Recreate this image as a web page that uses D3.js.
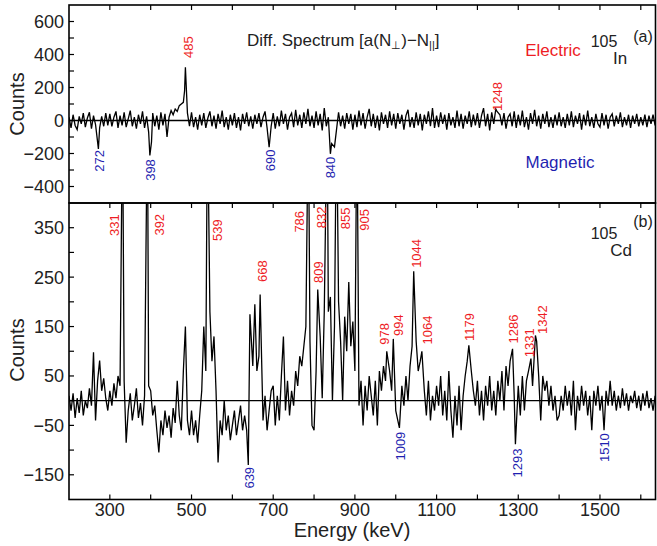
<!DOCTYPE html>
<html>
<head>
<meta charset="utf-8">
<script src="https://cdn.jsdelivr.net/npm/d3@7"></script>
<style>
  body { margin: 0; background: #fff; }
  text { font-family: "Liberation Sans", Arial, sans-serif; }
</style>
</head>
<body>
<div id="chart"></div>
<script>
"use strict";

// energy grid of the spectra (keV)
const energyStart = 200;
const energyStep = 5;
const energyLabels = [300, 500, 700, 900, 1100, 1300, 1500];
const energyTicks = d3.range(300, 1700, 100);
const ticksA = [-400, -200, 0, 200, 400, 600];
const ticksB = [-150, -50, 50, 150, 250, 350];

// (a) 105In difference spectrum, counts every 5 keV from 200 keV
const countsA = [
    20, -45, 35, -30, -55, 25, -20, 45, -40, 15, 50, -50, 30, -25, 55, -45, 25, -35, 45, -30,
    40, -35, 20, 55, -45, 30, -30, 50, -40, 10, 60, -35, 20, -50, 35, -20, 55, -45, 25, -70,
    -90, 45, -35, 30, -55, 50, -30, 40, -100, 20, 60, 35, 70, 55, 90, 100, 110, 200, 45, -35,
    50, -40, 20, -55, 35, -30, 45, -45, 15, 55, -35, 30, -50, 40, -20, 60, -40, 20, -55, 35,
    -30, 45, -45, 20, -60, 40, -20, 50, -35, 25, -50, 35, -20, 45, -40, 20, 55, -45, -160, -35,
    45, -50, 25, -35, 60, -20, 40, -55, 20, 45, -40, 65, -30, 35, -45, 50, -20, 70, -35, 30,
    -45, 55, -30, 40, -60, 75, -35, 20, -45, 35, -160, -55, 50, -35, 30, -50, 45, -20, 40, -55,
    35, -40, 60, -30, 45, -50, 20, 70, -35, 40, -45, 30, -60, 50, -20, 35, -45, 55, -30, 40,
    -50, 45, -20, 35, -55, 30, 65, -40, 20, -45, 50, -30, 40, -60, 35, -20, 55, -35, 75, -45,
    30, -40, 50, -20, 35, -55, 45, -30, 20, -45, 60, -35, 40, -50, 30, -20, 55, -40, 35, -30,
    45, -45, 30, 75, -35, 40, -60, 50, -20, 70, -65, 35, -30, 45, -50, 20, 40, -35, 55, -45,
    35, -30, 60, -40, 20, -55, 45, -20, 65, -35, 30, -50, 40, -20, 55, -40, 20, -45, 35, -30,
    50, -35, 20, -45, 40, -30, 55, -40, 30, -20, 45, -55, 35, -30, 60, -35, 20, -45, 40, -20,
    -40, 45, -30, 35, -50, 20, 40, -35, 30, -20, 50, -40, 20, -30, 35, -45, 30, -20, 40, -35,
    20, -30, 35, -40, 30, -20, 35, -30, 10
];
const peaksA = [
    [272, -172], [398, -212], [402, -130], [480, 110], [483, 180], [485, 323],
    [690, -162], [840, -202], [843, -140], [1248, 55]
];

// (b) 105Cd difference spectrum, counts every 5 keV from 200 keV
const countsB = [
    10, -20, 15, -35, 5, -25, 20, -30, 0, -15, 25, -10, 98, -40, 40, 81, 20, 45, 5, -20,
    20, -10, 35, 5, 50, 30, 60, 40, -85, -20, 15, -40, -10, 25, -35, -5, -50, 10, 55, 30,
    20, -30, -10, -60, -105, -40, -70, -20, -55, -30, -75, -15, -45, 40, -30, -60, 60, 10, -40, -70,
    -20, -70, -40, -85, -30, 20, 150, 60, 300, 180, 80, 130, 20, -125, -40, -70, 0, -60, -30, -80,
    -50, -20, -70, -40, -10, -60, -30, -60, 0, 40, 70, 100, 60, 90, 30, -40, 10, -60, -20, 20,
    30, -50, 10, -40, 50, 130, -20, 40, -30, 20, -10, 60, 30, 90, 70, 110, 150, 200, 120, -50,
    -60, 60, 150, 130, 5, 180, 250, 180, 210, 0, 150, 300, 200, 120, 0, 170, 100, 240, 110, 160,
    60, 300, -10, 40, -50, 30, -20, 50, 10, -30, 40, -50, 60, 20, 70, 40, 50, 60, 20, 80,
    -20, -40, -30, 30, -10, 50, 0, 70, 110, 200, 120, 60, 80, 70, 20, -30, 40, -40, 10, -20,
    30, -10, 50, -30, 20, -40, 60, -20, -75, 10, -50, 30, -60, 10, 50, 80, 100, 60, 20, -10,
    40, -30, 20, -40, 30, -10, 50, -20, 20, -30, 40, 0, 60, -20, 70, 30, 80, 90, 10, -20,
    30, -30, 50, -20, 40, 60, 80, 30, 70, 120, 50, -40, 50, 20, 40, -10, 30, -20, 10, -40,
    -30, 10, -20, 30, -10, 20, -30, 40, -60, 10, -20, 30, -10, 20, -30, 10, -60, 20, -10, 30,
    -20, 10, -60, 20, -10, 40, -10, 20, -20, 10, -15, 25, -10, 15, -20, 10, -5, 20, -15, 10,
    -20, 15, -10, 20, -15, 5, -20, 10, -10
];
const peaksB = [
    [331, 600], [392, 600], [485, 150], [539, 600], [639, -130], [643, 175], [655, 195],
    [668, 215], [786, 600], [809, 225], [832, 600], [855, 600], [905, 600], [978, 100],
    [994, 125], [1009, -55], [1044, 262], [1064, 100], [1179, 112], [1286, 105],
    [1293, -88], [1331, 85], [1342, 132], [1510, -60]
];

// peak labels: text, label energy, label counts level
const electricA = [["485", 492, 445], ["1248", 1248, 145]];
const magneticA = [["272", 274, -245], ["398", 400, -300], ["690", 692, -242], ["840", 840, -285]];
const electricB = [
    ["331", 310, 355], ["392", 421, 356], ["539", 564, 345], ["668", 673, 262],
    ["786", 765, 362], ["809", 810, 260], ["832", 818, 371], ["855", 877, 369],
    ["905", 924, 366], ["978", 973, 135], ["994", 1006, 153], ["1044", 1051, 298],
    ["1064", 1078, 143], ["1179", 1180, 149], ["1286", 1287, 145], ["1331", 1326, 117],
    ["1342", 1360, 164]
];
const magneticB = [["639", 641, -156], ["1009", 1011, -92], ["1293", 1297, -126], ["1510", 1511, -95]];

const red = "#ee1c24";
const blue = "#1f1fb0";

const drawChart = () => {
    const width = 657, height = 546;
    const left = 69, right = 655.5;
    const topA = 5, split = 203, bottomB = 499.5;

    const x = d3.scaleLinear().domain([200, 1636]).range([left, right]);
    const yA = d3.scaleLinear().domain([-500, 700]).range([split, topA]);
    const yB = d3.scaleLinear().domain([-200, 400]).range([bottomB, split]);

    const svg = d3.select("#chart").append("svg")
                  .attr("width", width)
                  .attr("height", height);

    const buildSeries = (counts, peaks) => {
        const grid = counts.map((c, i) => ({e: energyStart + i * energyStep, c: c}))
                           .filter(d => !peaks.some(p => Math.abs(p[0] - d.e) <= 2));
        return grid.concat(peaks.map(p => ({e: p[0], c: p[1]})))
                   .sort((a, b) => a.e - b.e);
    };

    const panel = (id, y, top, bottom, counts, peaks, yTicks, yLabels) => {
        svg.append("clipPath").attr("id", id)
           .append("rect")
           .attr("x", left).attr("y", top)
           .attr("width", right - left).attr("height", bottom - top);

        const g = svg.append("g");
        // zero line
        g.append("line")
         .attr("x1", left).attr("x2", right)
         .attr("y1", y(0)).attr("y2", y(0))
         .attr("stroke", "#000").attr("stroke-width", 1.4);

        const line = d3.line().x(d => x(d.e)).y(d => y(d.c));
        g.append("path")
         .datum(buildSeries(counts, peaks))
         .attr("clip-path", `url(#${id})`)
         .attr("d", line)
         .attr("fill", "none")
         .attr("stroke", "#000")
         .attr("stroke-width", 1.3);

        // y ticks (inward)
        g.selectAll(".yt").data(yTicks).enter()
         .append("line")
         .attr("x1", left).attr("x2", left + 5)
         .attr("y1", d => y(d)).attr("y2", d => y(d))
         .attr("stroke", "#000").attr("stroke-width", 1.2);
        g.selectAll(".yl").data(yLabels).enter()
         .append("text")
         .attr("x", left - 5)
         .attr("y", d => y(d))
         .attr("dy", "0.36em")
         .attr("text-anchor", "end")
         .attr("font-size", 18)
         .attr("fill", "#222")
         .text(d => d < 0 ? "\u2212" + Math.abs(d) : d);

        // top x ticks (pointing down)
        g.selectAll(".xt").data(energyTicks).enter()
         .append("line")
         .attr("x1", d => x(d)).attr("x2", d => x(d))
         .attr("y1", top).attr("y2", top + 5)
         .attr("stroke", "#000").attr("stroke-width", 1.2);

        // frame
        g.append("rect")
         .attr("x", left).attr("y", top)
         .attr("width", right - left).attr("height", bottom - top)
         .attr("fill", "none").attr("stroke", "#000").attr("stroke-width", 1.6);
        return g;
    };

    panel("clipA", yA, topA, split, countsA, peaksA,
          d3.range(-400, 700, 100), ticksA);
    panel("clipB", yB, split, bottomB, countsB, peaksB,
          d3.range(-150, 400, 50), ticksB);

    // bottom x axis
    svg.selectAll(".bt").data(energyTicks).enter()
       .append("line")
       .attr("x1", d => x(d)).attr("x2", d => x(d))
       .attr("y1", bottomB).attr("y2", bottomB - 5)
       .attr("stroke", "#000").attr("stroke-width", 1.2);
    svg.selectAll(".bl").data(energyLabels).enter()
       .append("text")
       .attr("x", d => x(d))
       .attr("y", bottomB + 16)
       .attr("text-anchor", "middle")
       .attr("font-size", 18)
       .attr("fill", "#222")
       .text(d => d);

    svg.append("text")
       .attr("x", 352).attr("y", 537)
       .attr("text-anchor", "middle")
       .attr("font-size", 20)
       .attr("fill", "#222")
       .text("Energy (keV)");

    const counts = (cy) => svg.append("text")
       .attr("transform", `translate(24, ${cy}) rotate(-90)`)
       .attr("text-anchor", "middle")
       .attr("font-size", 20)
       .attr("fill", "#222")
       .text("Counts");
    counts(104);
    counts(350);

    // peak labels
    const peakLabels = (data, y, color) => {
        svg.append("g").selectAll("text").data(data).enter()
           .append("text")
           .attr("transform", d => `translate(${x(d[1])}, ${y(d[2])}) rotate(-90)`)
           .attr("text-anchor", "middle")
           .attr("dy", "0.36em")
           .attr("font-size", 13)
           .attr("fill", color)
           .text(d => d[0]);
    };
    peakLabels(electricA, yA, red);
    peakLabels(magneticA, yA, blue);
    peakLabels(electricB, yB, red);
    peakLabels(magneticB, yB, blue);

    // panel a annotations
    const title = svg.append("text")
                     .attr("x", 247).attr("y", 46)
                     .attr("font-size", 17)
                     .attr("fill", "#222");
    title.append("tspan").text("Diff. Spectrum [a(N");
    title.append("tspan").attr("font-size", 11).attr("dy", 3).text("\u22a5");
    title.append("tspan").attr("dy", -3).text(")\u2212N");
    title.append("tspan").attr("font-size", 11).attr("dy", 3).text("||");
    title.append("tspan").attr("dy", -3).text("]");

    svg.append("text").attr("x", 553).attr("y", 56)
       .attr("text-anchor", "middle").attr("font-size", 17)
       .attr("fill", red).text("Electric");
    svg.append("text").attr("x", 560).attr("y", 168)
       .attr("text-anchor", "middle").attr("font-size", 17)
       .attr("fill", blue).text("Magnetic");

    const nucleus = (mass, sym, cx, cy, tag, ty) => {
        svg.append("text").attr("x", 604).attr("y", cy)
           .attr("text-anchor", "middle").attr("font-size", 16)
           .attr("fill", "#222").text(mass);
        svg.append("text").attr("x", cx).attr("y", cy + 17)
           .attr("text-anchor", "middle").attr("font-size", 17)
           .attr("fill", "#222").text(sym);
        svg.append("text").attr("x", 643).attr("y", ty)
           .attr("text-anchor", "middle").attr("font-size", 16)
           .attr("fill", "#222").text(tag);
    };
    nucleus("105", "In", 620, 47, "(a)", 42);
    nucleus("105", "Cd", 621, 239, "(b)", 227);
};

drawChart();
</script>
</body>
</html>
